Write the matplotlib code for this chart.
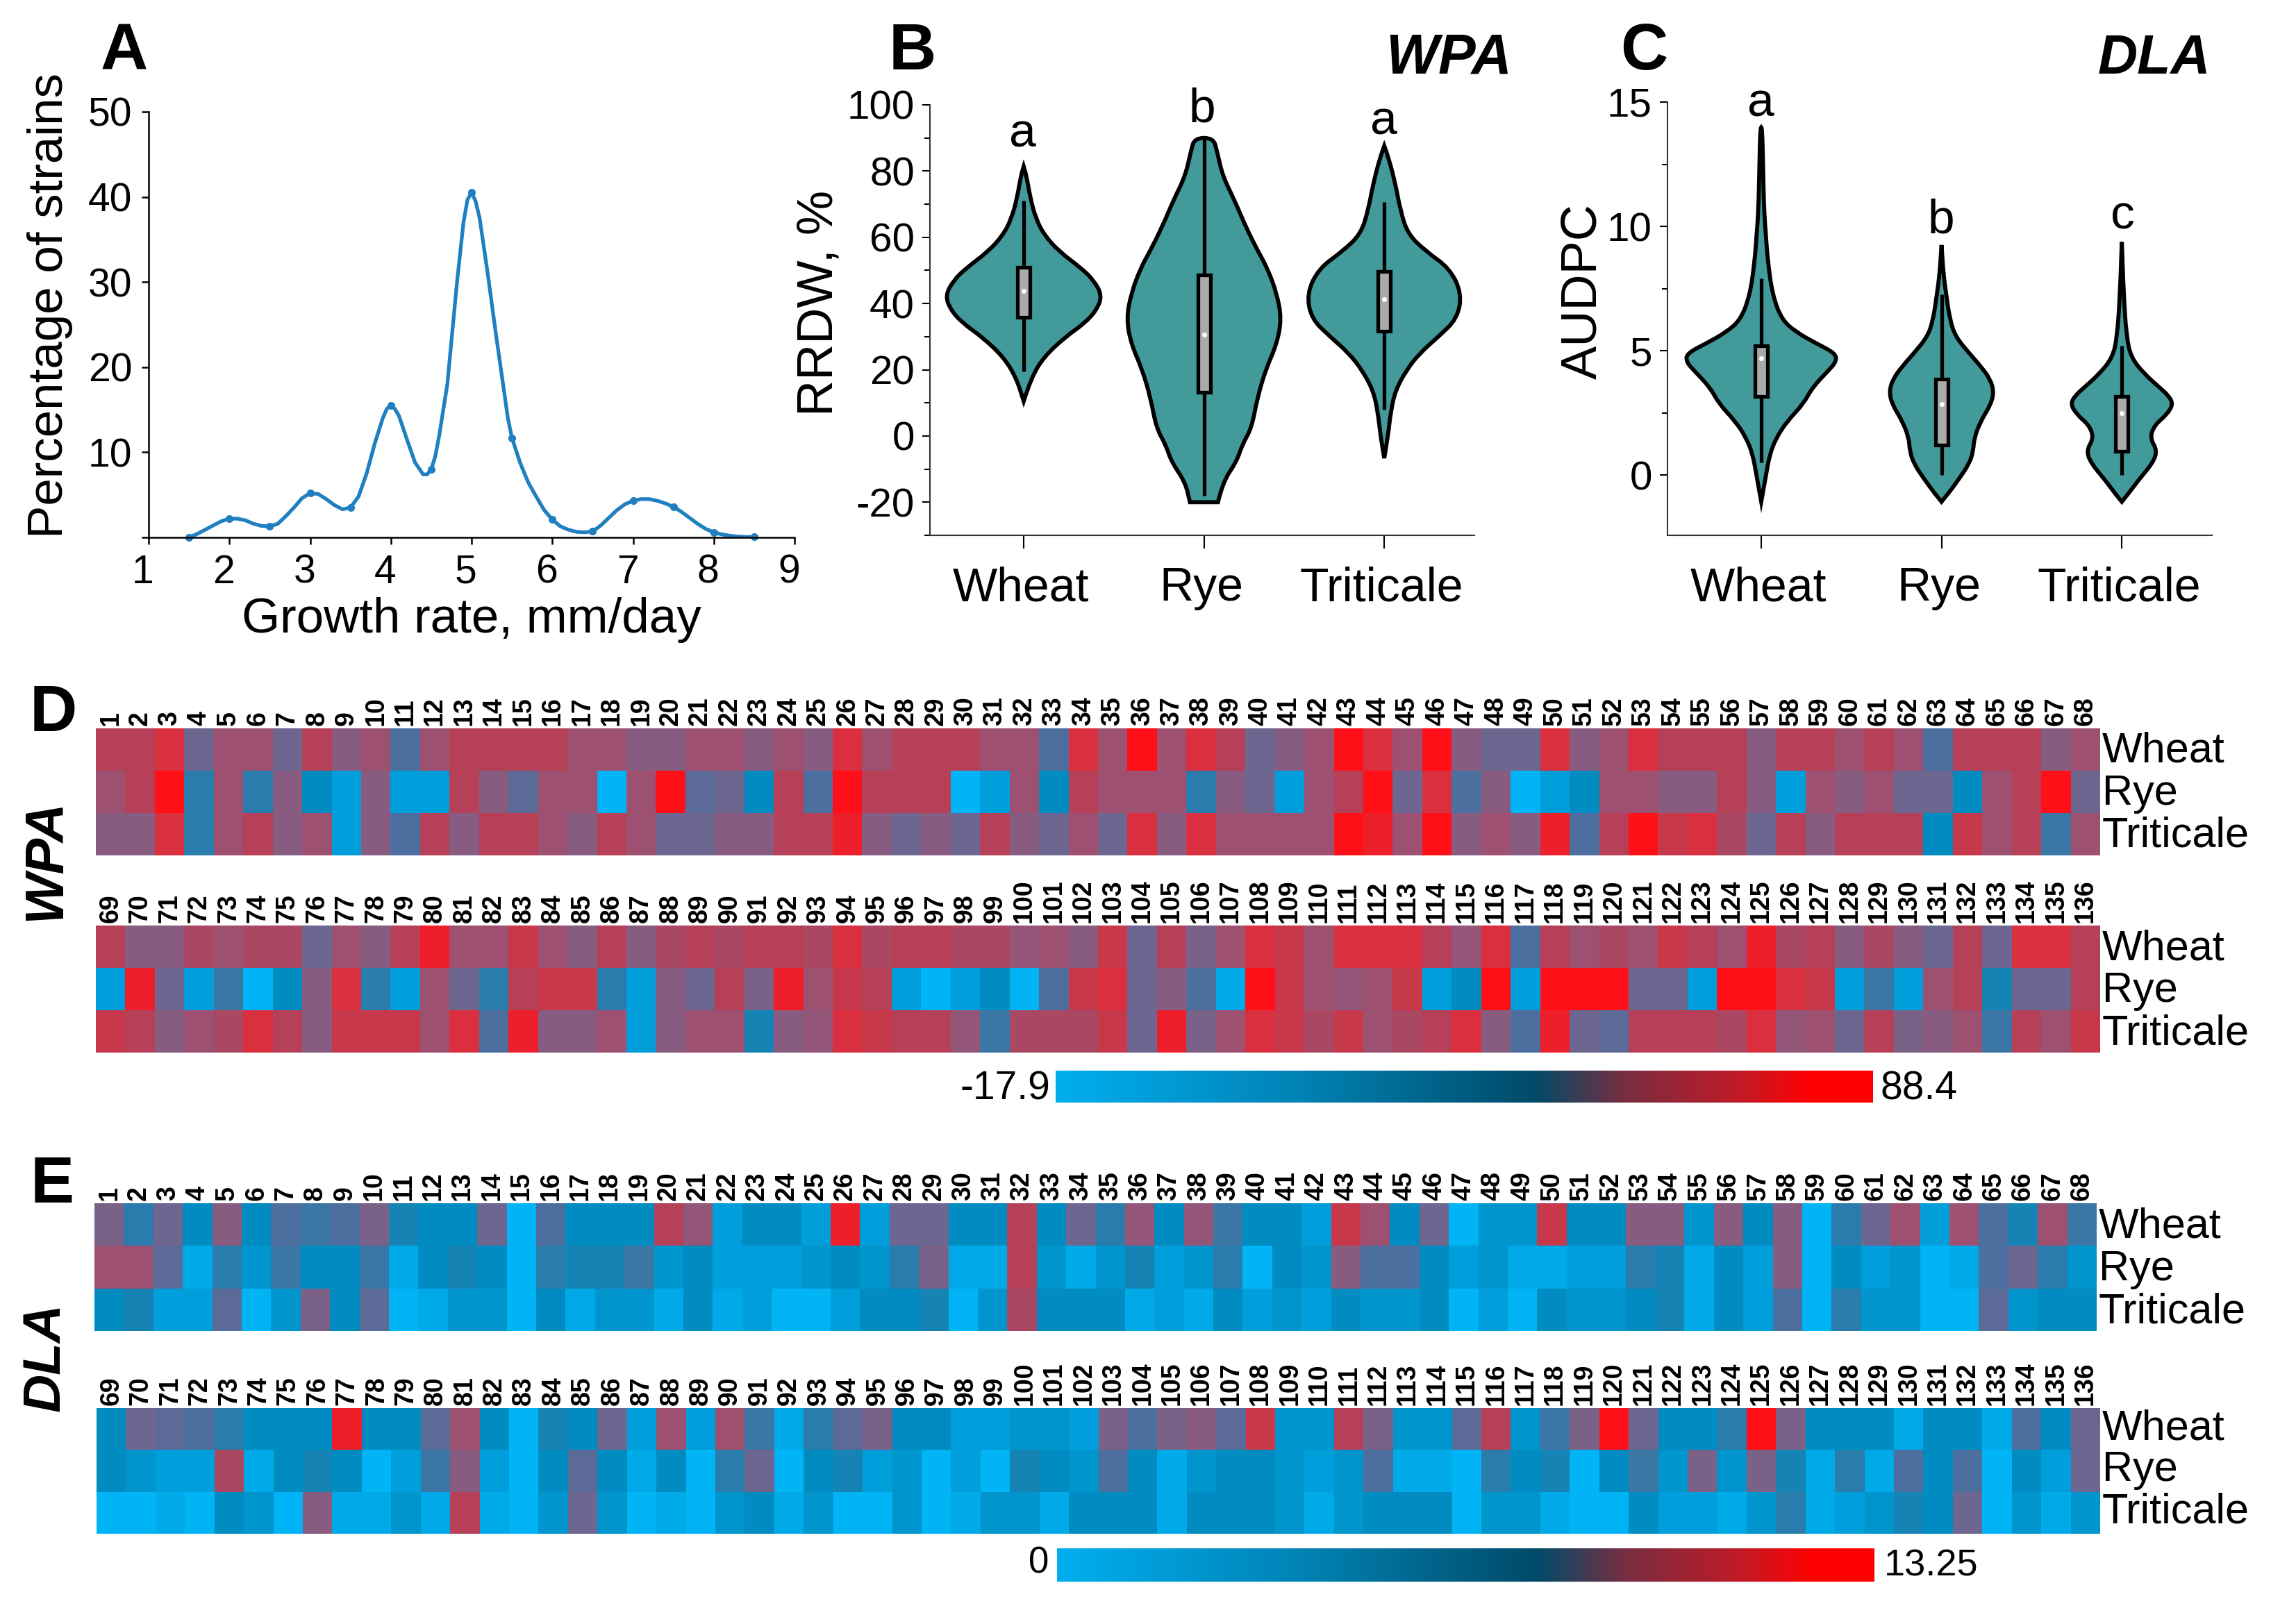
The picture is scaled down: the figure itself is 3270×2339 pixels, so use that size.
import matplotlib
matplotlib.use('Agg')
import matplotlib.pyplot as plt
import numpy as np
from matplotlib.cm import ScalarMappable
from matplotlib.colors import LinearSegmentedColormap, Normalize
from matplotlib.patches import PathPatch
from matplotlib.path import Path
from matplotlib.transforms import ScaledTranslation

W, H = 3270, 2339
plt.rcParams['font.family'] = ['Liberation Sans', 'DejaVu Sans']
plt.rcParams['axes.unicode_minus'] = False

# panel A, curve and the measured points on it
growth_x = [1.5, 1.6, 1.7, 1.8, 1.9, 2.0, 2.1, 2.2, 2.3, 2.4, 2.5, 2.6, 2.7, 2.8, 2.9, 3.0, 3.1, 3.2, 3.3, 3.4,
            3.5, 3.6, 3.7, 3.8, 3.9, 3.95, 4.0, 4.05, 4.1, 4.2, 4.3, 4.4, 4.45, 4.5, 4.55, 4.6, 4.7, 4.82, 4.9, 4.95, 5.0, 5.05, 5.1, 5.2, 5.3,
            5.36, 5.45, 5.5, 5.6, 5.7, 5.8, 5.9, 6.0, 6.1, 6.2, 6.3, 6.4, 6.5, 6.6, 6.7, 6.8, 6.9, 7.0, 7.1, 7.2,
            7.3, 7.4, 7.5, 7.6, 7.7, 7.8, 7.9, 8.0, 8.1, 8.2, 8.3, 8.4, 8.5]
growth_y = [0, 0.4, 0.9, 1.4, 1.9, 2.2, 2.2, 2.0, 1.6, 1.35, 1.3, 1.6, 2.5, 3.5, 4.6, 5.2, 5.1, 4.5, 3.8, 3.3,
            3.5, 4.8, 7.5, 11, 14, 15.1, 15.5, 15.1, 14.3, 11.5, 8.8, 7.4, 7.4, 8, 9.5, 12, 18, 30, 37, 39.7, 40.5, 39.5, 37.5, 31, 24,
            20, 14, 11.7, 8.8, 6.5, 4.8, 3.2, 2.1, 1.3, 0.9, 0.65, 0.6, 0.7, 1.4, 2.3, 3.2, 3.9, 4.3, 4.5, 4.5,
            4.3, 4.0, 3.6, 3.0, 2.3, 1.6, 1.0, 0.6, 0.35, 0.2, 0.1, 0.05, 0.05]
marker_x = [1.5, 2, 2.5, 3, 3.5, 4, 4.5, 5, 5.5, 6, 6.5, 7, 7.5, 8, 8.5]
marker_y = [0, 2.2, 1.3, 5.2, 3.5, 15.5, 8, 40.5, 11.7, 2.1, 0.7, 4.3, 3.6, 0.6, 0.05]

hosts = ['Wheat', 'Rye', 'Triticale']

# violin outlines: value, half width (read in pixels of a crop, 193 to one category)
wpa_val = [
    [10.5, 17.6, 24, 30, 34, 38, 42.4, 47, 50.6, 55.7, 60.7, 65.7, 72, 78.5, 81.4],
    [-20, -14, -7.7, -2.6, 2.4, 11.3, 20, 27.8, 35.4, 43, 50.6, 55.7, 63, 71, 78.5, 86, 90],
    [-6.7, 0, 7.5, 13.8, 20, 25, 30, 35.4, 43, 50.6, 55.7, 61, 68.5, 76, 83.6, 87.6],
]
wpa_hw = [
    [0, 8, 22, 45, 65, 78, 84, 75, 62, 38, 22, 13, 7, 3, 0],
    [15, 20, 35, 41, 51, 57, 66, 78, 83, 78, 68, 58, 45, 33, 20, 14, 10],
    [0, 4, 7, 12, 24, 38, 58, 78, 83, 70, 45, 25, 17, 12, 5, 0],
]
dla_val = [
    [-1.08, -0.03, 0.81, 1.49, 2.17, 2.85, 3.53, 4.2, 4.54, 4.88, 5.31, 5.73, 6.24, 7.25, 8.61, 9.63, 10.64, 12.34, 13.98],
    [-1.08, -0.71, -0.2, 0.47, 0.98, 1.49, 2.17, 2.85, 3.36, 3.86, 4.37, 4.88, 5.56, 6.24, 7.25, 8.1, 9.25],
    [-1.08, -0.71, -0.2, 0.47, 0.98, 1.49, 2.0, 2.42, 2.85, 3.19, 3.53, 4.03, 4.71, 5.56, 7.25, 9.37],
]
dla_hw = [
    [0, 5, 9, 16, 28, 45, 55, 72, 80, 80, 58, 38, 22, 12, 7, 5, 3, 2, 1],
    [0, 8, 18, 30, 34, 35, 42, 53, 56, 52, 42, 30, 15, 9, 5, 2, 0],
    [0, 8, 18, 33, 38, 30, 35, 48, 55, 50, 40, 25, 10, 5, 2, 0],
]

# box statistics: whisker low, box low, median, box high, whisker high
wpa_box = [[19.5, 35.8, 43.9, 51, 71], [-18, 13.2, 30.7, 48.7, 90], [8, 31.6, 41.3, 49.6, 70.6]]
dla_box = [[0.5, 3.15, 4.7, 5.2, 7.9], [0, 1.2, 2.85, 3.85, 7.25], [0, 0.95, 2.5, 3.15, 5.2]]

wpa_letters = ['a', 'b', 'a']
dla_letters = ['a', 'b', 'c']

# heatmaps, read as colour level 0 (lowest, bright blue) to 10 (highest, red)
wpa_top = [
    [8, 8, 9, 5, 7, 7, 5, 8, 6, 7, 4, 7, 8, 8, 8, 8, 7, 7, 6, 6, 7, 7, 6, 7, 6, 9, 7, 8, 8, 8, 7, 7, 4, 9,
     7, 10, 7, 9, 8, 5, 6, 7, 10, 9, 7, 10, 6, 5, 5, 9, 6, 7, 9, 8, 8, 8, 6, 8, 8, 7, 8, 7, 4, 8, 8, 8, 6, 7],
    [7, 8, 10, 3, 7, 3, 6, 2, 1, 6, 1, 1, 8, 6, 4.5, 7, 7, 0, 7, 10, 4.5, 5, 2, 8, 4, 10, 8, 8, 8, 0, 1, 7, 2, 8,
     7, 7, 7, 3, 6, 5, 1, 7, 8, 10, 5, 9, 4, 6, 0, 1, 2, 7, 7, 6, 6, 8, 6, 1, 7, 6, 7, 5, 5, 2, 7, 8, 10, 5],
    [6, 6, 9, 3, 7, 8, 6, 7, 1, 6, 4, 8, 6, 8, 8, 7, 6, 8, 7, 5, 5, 6, 6, 8, 8, 9.5, 6, 5, 6, 5, 8, 6, 5, 7,
     5, 9, 6, 9, 7, 7, 7, 7, 10, 9.5, 7, 10, 6, 7, 6, 9.5, 4, 8, 10, 8.5, 9, 7.5, 5, 8, 6, 8, 8, 8, 2, 8.5, 7, 8, 3.5, 7],
]
wpa_bottom = [
    [8, 6, 6, 7.5, 7, 7.5, 7.5, 5, 7, 6, 8, 9.5, 7, 7, 8.5, 7, 6, 8, 6, 7.5, 8, 7.5, 8, 8, 7.5, 9, 7.5, 8, 8, 7.5, 7.5, 6.5, 7, 6, 8.5,
     5, 8, 5.5, 7, 9, 8.5, 7, 9, 9, 9, 8, 6.5, 9, 4, 8, 7, 7.5, 7, 8.5, 8, 7, 9.5, 7.5, 8, 6, 7.5, 6, 5, 8, 5, 9, 9, 8],
    [1, 9.5, 5, 1, 3.5, 0, 2, 6, 9, 3, 1, 7, 5, 3, 8, 8.5, 8.5, 3, 1, 6, 5, 8, 5.5, 9.5, 7, 8.5, 8, 1, 0, 1, 2, 0, 4, 8.5, 9,
     5, 6, 4, 0.5, 10, 8.5, 7, 6.5, 7, 8.5, 1, 2, 10, 1, 10, 10, 10, 5, 5, 1, 10, 10, 9, 8.5, 1, 3.5, 1, 7, 8, 2.5, 5, 5, 8],
    [8.5, 8, 6, 7, 7.5, 9, 8, 6, 8.5, 8.5, 8.5, 7, 9, 4, 9.5, 6, 6, 7, 1, 6, 7, 7, 2.5, 6, 6.5, 9, 8.5, 8, 8, 6.5, 3.5, 7.5, 7.5, 7.5, 8.5,
     5, 9.5, 5.5, 7, 9, 8.5, 7.5, 8.5, 7, 7.5, 8, 9, 6, 4, 9.5, 5, 4.5, 8, 8, 8, 7.5, 9, 6.5, 7, 5, 8, 5.5, 6, 7, 3.5, 8, 7, 8.5],
]
dla_top = [
    [5.5, 3, 5, 2, 6, 2, 4, 3.5, 4, 5.5, 2.5, 2, 2, 5, 0, 4, 2, 2, 2, 8, 6.5, 1, 2, 2, 1, 9.5, 1, 5, 5, 2, 2, 8, 2, 5,
     3, 6.5, 2, 6.5, 3.5, 2, 2, 1, 8.5, 7, 2, 5, 0, 1.5, 1.5, 8.5, 2, 2, 6, 6, 1.5, 6, 2, 6, 0, 3, 5, 7, 1, 7, 4, 2.5, 7, 3.5],
    [7, 7, 4.5, 0.5, 3, 1.5, 3.5, 2, 2, 3.5, 0.5, 2, 2.5, 2, 0, 3, 2.5, 2.5, 3.5, 1.5, 2, 1, 1, 1, 1.5, 2, 1.5, 3, 5.5, 0.5, 0.5, 8, 1.5, 0.5,
     1.5, 2.5, 1, 1.5, 3, 0, 2, 1.5, 6, 4, 4, 2, 1, 1.5, 0.5, 0.5, 1, 1, 3, 2.5, 0.5, 2, 1, 6, 0, 2, 1, 1.5, 0, 0.5, 4, 5, 3, 1.5],
    [2, 2.5, 1, 1, 4.5, 0, 1.5, 5.5, 2, 4.5, 0, 0.5, 1.5, 1.5, 0, 2, 0.5, 1.5, 1.5, 0.5, 2, 0.5, 1, 0, 0, 1, 2, 2, 2.5, 0, 1.5, 7.5, 2, 2,
     2, 0.5, 1, 0.5, 2, 1, 1.5, 1, 2, 1.5, 1.5, 2, 0, 1, 0, 2, 1.5, 1.5, 2, 2.5, 0.5, 2, 1, 4, 0, 3, 1.5, 1.5, 0, 0, 4.5, 1.5, 2, 2],
]
dla_bottom = [
    [2, 5, 4.5, 4, 3, 2, 2, 2, 9.5, 2, 2, 4.5, 7, 2, 0, 2.5, 2, 5, 1, 7, 1, 7, 3.5, 0.5, 3, 4.5, 5.5, 2, 2, 1, 1, 1.5, 1.5, 1, 5.5,
     4, 5.5, 6, 4.5, 8.5, 1.5, 1.5, 8, 5.5, 1.5, 1.5, 4.5, 8, 1.5, 3.5, 5.5, 10, 5, 2, 2, 3, 10, 5.5, 2, 2, 2, 0.5, 2, 2, 0.5, 4, 2, 5],
    [2, 1.5, 1, 1, 7.5, 0.5, 2, 2.5, 2, 0, 1, 3.5, 6, 1, 0, 2, 4.5, 2, 0.5, 2, 0, 3, 5, 0, 2, 2.5, 1, 1.5, 0, 1, 0, 2.5, 2, 1.5, 4,
     2, 0.5, 1.5, 2, 2, 1.5, 1, 1.5, 4, 0.5, 0.5, 0, 3, 2, 2.5, 0, 2, 3.5, 1.5, 5.5, 1.5, 5.5, 2.5, 0.5, 3, 0.5, 4, 2, 4, 0, 2, 1, 5],
    [0, 0, 0.5, 0, 2, 1.5, 0, 6, 0.5, 0.5, 1.5, 0.5, 8, 0.5, 0, 1.5, 5, 1.5, 0, 0.5, 0, 1.5, 2, 0.5, 1.5, 0, 0, 1.5, 0, 0.5, 1.5, 1.5, 0.5, 2, 2,
     2, 0.5, 2, 2, 2, 1.5, 0.5, 1.5, 2, 2, 2, 0, 1.5, 1.5, 0.5, 0, 0, 2, 1, 1, 0.5, 1.5, 3, 0.5, 1, 1.5, 2.5, 2, 5, 0, 1.5, 0.5, 1.5],
]

heat_colors = ['#00B4F5', '#009ED9', '#008CC0', '#2A7CAB', '#4D6F9F', '#6B6690',
               '#875C80', '#9E5070', '#B54058', '#D8303F', '#FF1019']
heat_cmap = LinearSegmentedColormap.from_list('heat', heat_colors)
bar_cmap = LinearSegmentedColormap.from_list('bar', [
    (0, '#00AEEF'), (0.30, '#0082B4'), (0.588, '#004A68'), (0.70, '#7A2C40'),
    (0.837, '#C01A25'), (0.928, '#FF0000'), (1, '#FF0000')])


def axes_px(left, top, right, bottom):
    return fig.add_axes([left / W, 1 - bottom / H, (right - left) / W, (bottom - top) / H])


def text_px(x, y, s, **kw):
    return fig.text(x / W, 1 - y / H, s, **kw)


def nudge(labels, dx=0, dy=0):
    # dx, dy in output pixels, dy upward
    shift = ScaledTranslation(dx / 100, dy / 100, fig.dpi_scale_trans)
    for lbl in labels:
        lbl.set_transform(lbl.get_transform() + shift)


def outline_path(val, hw, pos):
    right = [(pos + h / 193, v) for v, h in zip(val, hw)]
    left = [(pos - h / 193, v) for v, h in zip(val, hw)][::-1]
    pts = right + left
    verts = [pts[0]]
    codes = [Path.MOVETO]
    for a, b in zip(pts[1:-1], pts[2:]):
        verts += [a, ((a[0] + b[0]) / 2, (a[1] + b[1]) / 2)]
        codes += [Path.CURVE3, Path.CURVE3]
    verts += [pts[-1], pts[0]]
    codes += [Path.LINETO, Path.CLOSEPOLY]
    return Path(verts, codes)


def violin_panel(ax, vals, hws, boxes, ylim, major, minor):
    for i, (val, hw, box) in enumerate(zip(vals, hws, boxes)):
        pos = i + 1
        ax.add_patch(PathPatch(outline_path(val, hw, pos), facecolor='#439A9B', edgecolor='black', lw=4.2))
        ax.plot([pos, pos], [box[0], box[4]], color='black', lw=3.8, solid_capstyle='butt')
        ax.bar(pos, box[3] - box[1], bottom=box[1], width=0.07, color='#AAAAAA', edgecolor='black', lw=3.8, zorder=3)
        ax.plot(pos, box[2], 'o', color='white', ms=4, zorder=4)
    ax.set_xlim(0.48, 3.5)
    ax.set_ylim(*ylim)
    ax.set_xticks([1, 2, 3], hosts, fontsize=49)
    ax.set_yticks(major)
    ax.set_yticks(minor, minor=True)
    ax.tick_params(axis='x', length=14, width=1.5, pad=18)
    ax.tick_params(axis='y', which='major', length=8, width=1.5, labelsize=42, pad=8)
    ax.tick_params(axis='y', which='minor', length=6, width=1.5)
    nudge(ax.get_xticklabels(), dx=-4)
    for side in ['top', 'right']:
        ax.spines[side].set_visible(False)
    for side in ['left', 'bottom']:
        ax.spines[side].set_linewidth(1.5)
        ax.spines[side].set_color('#333333')


def heat_panel(ax, rows, first, label_up):
    ax.pcolormesh(np.array(rows), cmap=heat_cmap, vmin=0, vmax=10)
    ax.invert_yaxis()
    n = len(rows[0])
    ax.set_xticks(np.arange(n) + 0.5, [str(first + i) for i in range(n)], rotation=90,
                  fontsize=27, fontweight='bold')
    ax.set_yticks([0.5, 1.5, 2.5], hosts, fontsize=44)
    ax.tick_params(axis='both', length=0)
    ax.tick_params(axis='x', top=True, labeltop=True, bottom=False, labelbottom=False, pad=3)
    ax.tick_params(axis='y', left=False, labelleft=False, right=True, labelright=True, pad=2)
    nudge(ax.get_yticklabels(which='major'), dy=label_up)
    for s in ax.spines.values():
        s.set_visible(False)


def color_bar(rect, vmin, vmax):
    cax = axes_px(*rect)
    cb = fig.colorbar(ScalarMappable(Normalize(vmin, vmax), bar_cmap), cax=cax, orientation='horizontal')
    cb.set_ticks([])
    cb.outline.set_visible(False)


fig = plt.figure(figsize=(W / 100, H / 100), dpi=100)

# A
ax = axes_px(214, 161, 1144, 774)
ax.plot(growth_x, growth_y, color='#1F7FC0', lw=3.8)
ax.plot(marker_x, marker_y, 'o', color='#1F7FC0', ms=7, clip_on=False)
ax.set_xlim(1, 9)
ax.set_ylim(0, 50)
ax.set_xticks(range(1, 10))
ax.set_yticks([0, 10, 20, 30, 40, 50], ['', '10', '20', '30', '40', '50'])
ax.tick_params(axis='both', length=7, width=1.8, labelsize=41, pad=10)
nudge(ax.get_xticklabels(), dx=-8)
ax.set_xlabel('Growth rate, mm/day', fontsize=51, labelpad=6)
ax.set_ylabel('Percentage of strains', fontsize=51, labelpad=16, y=0.545)
for side in ['top', 'right']:
    ax.spines[side].set_visible(False)
for side in ['left', 'bottom']:
    ax.spines[side].set_linewidth(1.8)

# B
ax = axes_px(1339, 151, 2123, 771)
violin_panel(ax, wpa_val, wpa_hw, wpa_box, (-29.7, 100), range(-20, 101, 20), range(-30, 100, 20))
ax.set_ylabel('RRDW, %', fontsize=52, labelpad=4, y=0.54)

# C
ax = axes_px(2401, 147, 3185, 771)
violin_panel(ax, dla_val, dla_hw, dla_box, (-2.43, 15), [0, 5, 10, 15], [2.5, 7.5, 12.5])
ax.set_ylabel('AUDPC', fontsize=52, labelpad=0, y=0.5625)

# significance letters, panel labels
for x, y, s in zip([1472, 1731, 1992], [212, 175, 193], wpa_letters):
    text_px(x, y, s, fontsize=50, ha='center', va='baseline')
for x, y, s in zip([2535, 2795, 3056], [167, 336, 330], dla_letters):
    text_px(x, y, s, fontsize=50, ha='center', va='baseline')
for x, y, s in [(145, 100, 'A'), (1280, 100, 'B'), (2333, 100, 'C'), (43, 1053, 'D'), (44, 1732, 'E')]:
    text_px(x, y, s, fontsize=68, fontweight='bold', ha='left', va='baseline')
text_px(1995, 106, 'WPA', fontsize=58, fontweight='bold', style='italic', va='baseline')
text_px(3021, 106, 'DLA', fontsize=57, fontweight='bold', style='italic', va='baseline')
text_px(66, 1238, 'WPA', fontsize=56, fontweight='bold', style='italic', rotation=90, ha='center', va='center')
text_px(66, 1955, 'DLA', fontsize=55, fontweight='bold', style='italic', rotation=90, ha='center', va='center')

# D, E
heat_panel(axes_px(138, 1049, 3024, 1232), wpa_top, 1, 4)
heat_panel(axes_px(138, 1333, 3024, 1516), wpa_bottom, 69, 3)
heat_panel(axes_px(136, 1733, 3019, 1917), dla_top, 1, 3)
heat_panel(axes_px(139, 2028, 3024, 2209), dla_bottom, 69, 7)

color_bar((1520, 1542, 2697, 1588), -17.9, 88.4)
color_bar((1522, 2230, 2699, 2278), 0, 13.25)
text_px(1512, 1583, '-17.9', fontsize=41, ha='right', va='baseline')
text_px(2707, 1583, '88.4', fontsize=41, ha='left', va='baseline')
text_px(1510, 2265, '0', fontsize=38, ha='right', va='baseline')
text_px(2713, 2269, '13.25', fontsize=39, ha='left', va='baseline')

fig.savefig('out.png', dpi=100)
plt.close(fig)
